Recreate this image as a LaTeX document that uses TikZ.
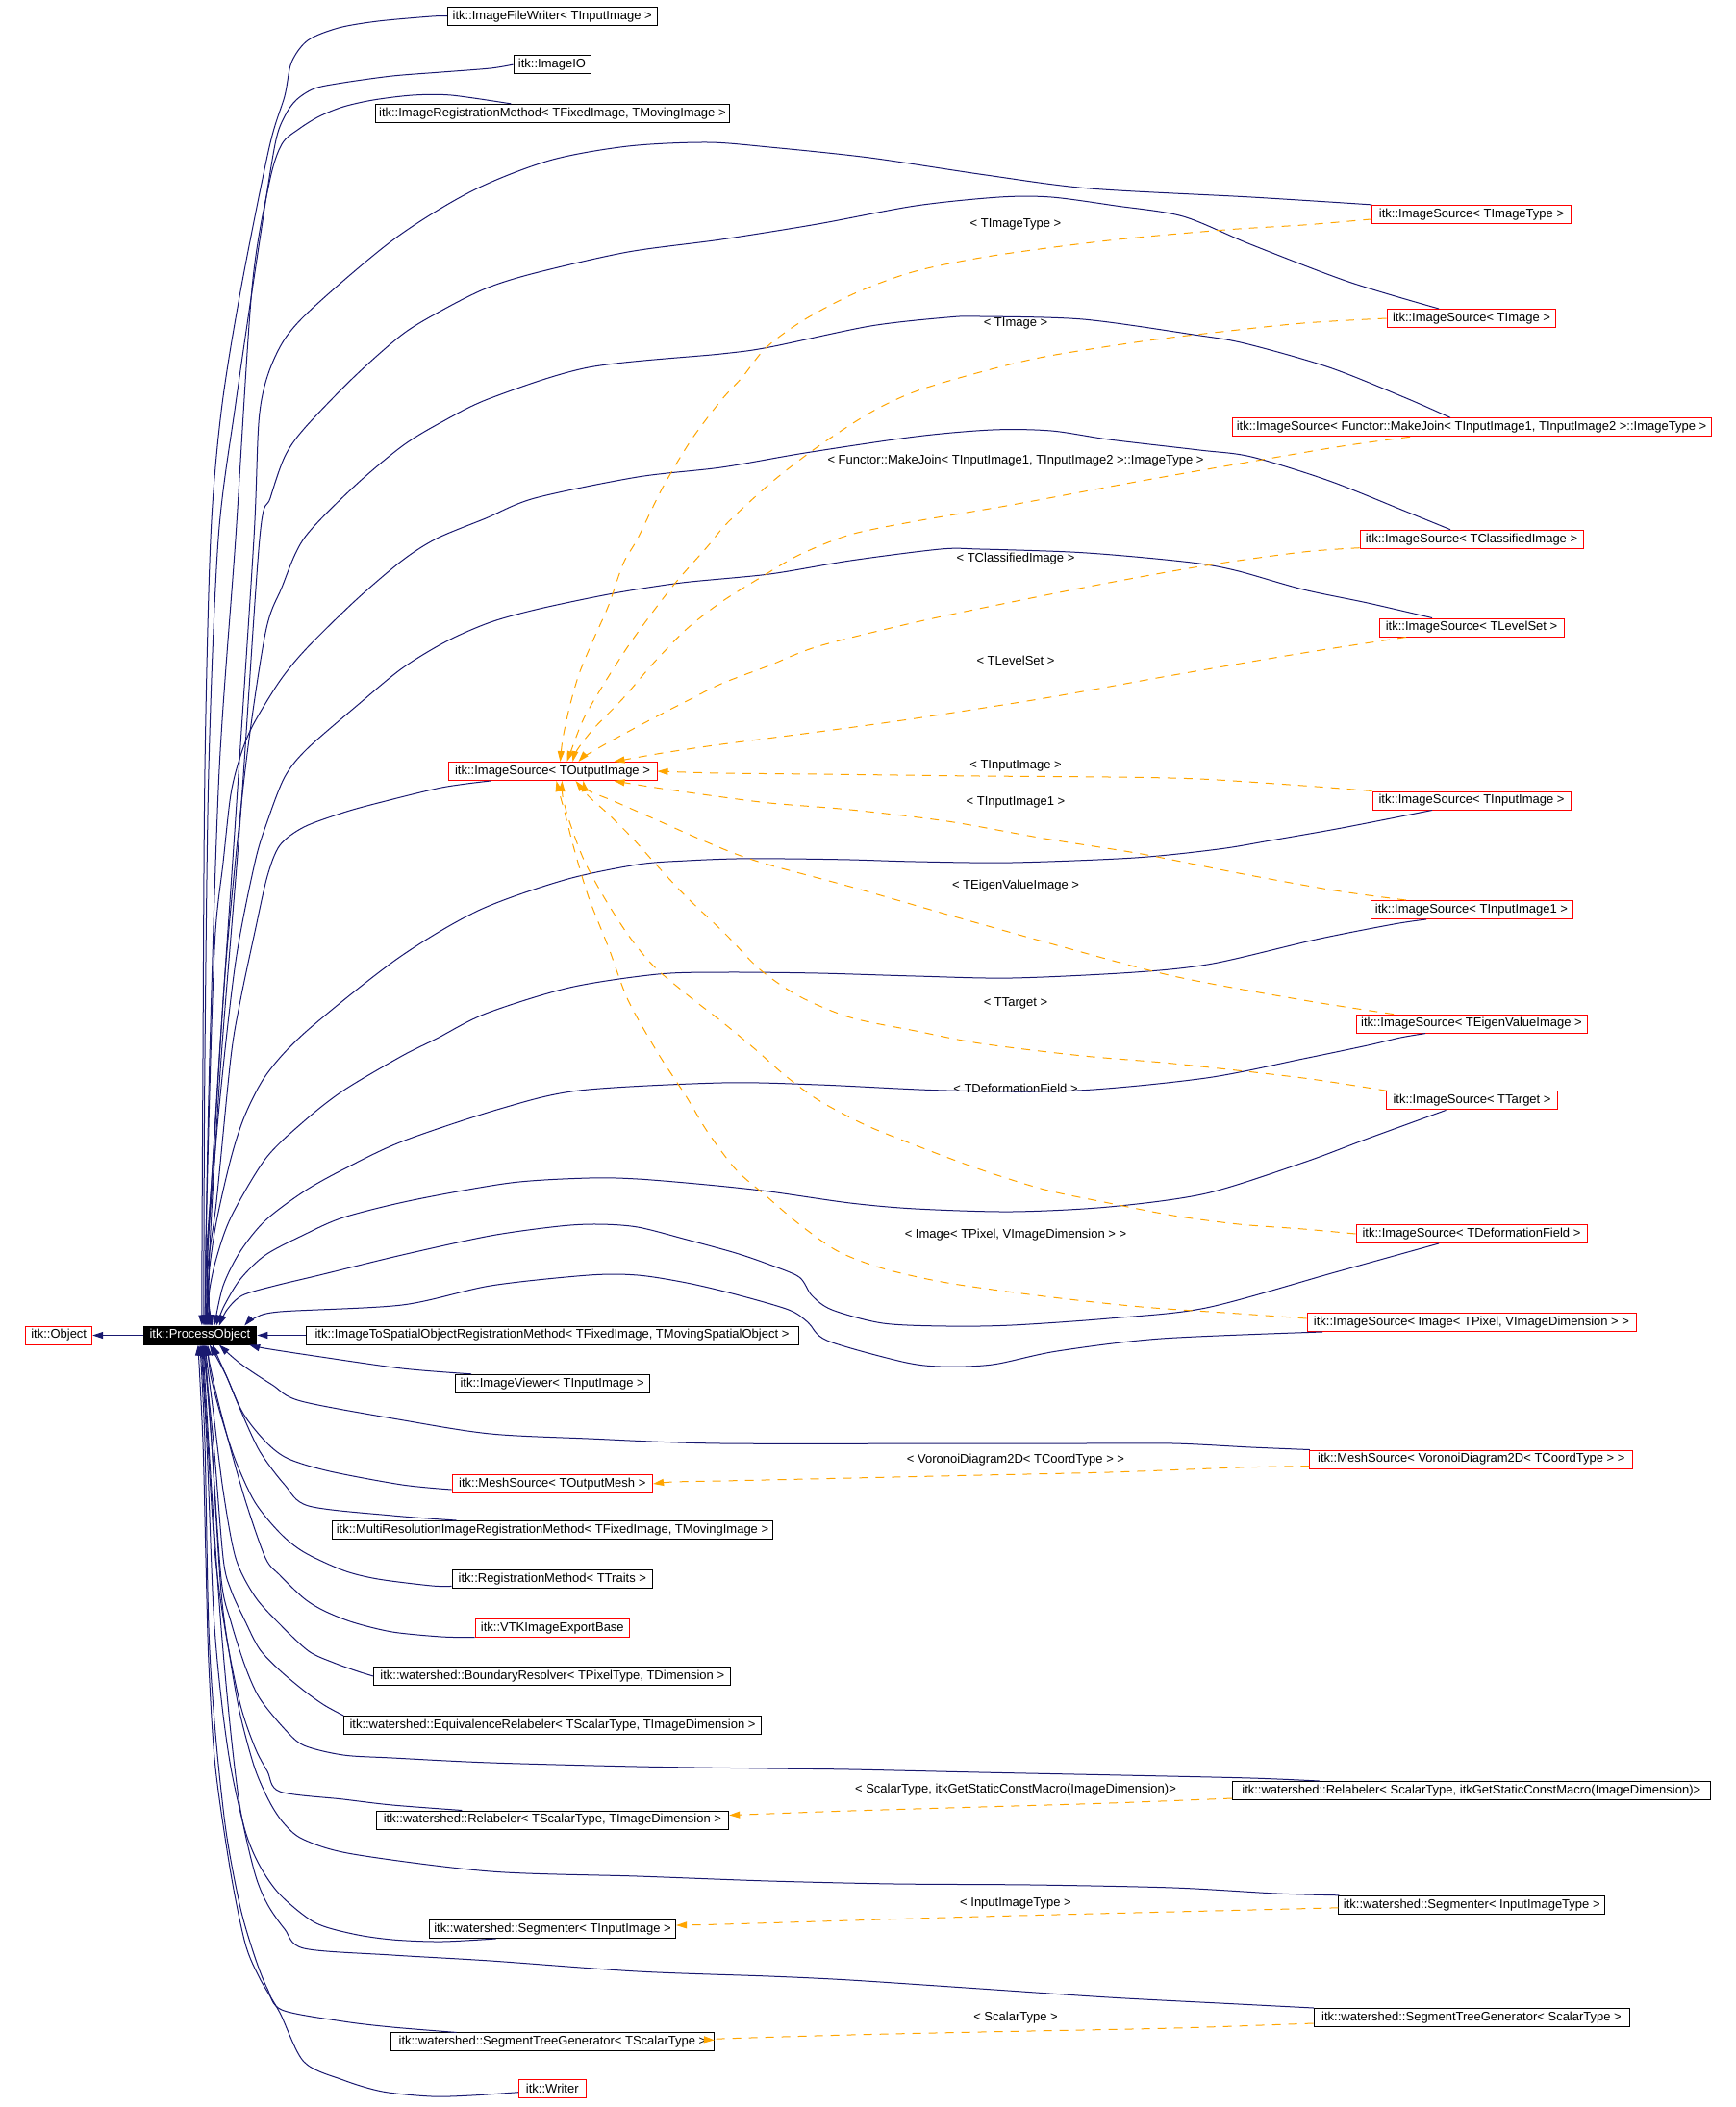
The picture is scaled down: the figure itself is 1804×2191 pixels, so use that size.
\documentclass[tikz,border=0pt]{standalone}
\usepackage{fontspec}
\setmainfont{Liberation Sans}
\usetikzlibrary{arrows.meta}
\definecolor{navy}{HTML}{191970}
\definecolor{dxorange}{HTML}{FFA500}
\newcommand\dxfont{\fontsize{13}{15}\selectfont}
\tikzset{
 box/.style={draw, line width=1pt, fill=white, rectangle, minimum height=19pt, inner xsep=2pt, inner ysep=0pt, font=\dxfont, text=black},
 rbox/.style={box, draw=red},
 kbox/.style={box, draw=black},
 inh/.style={draw=navy, line width=1pt, -{Triangle[length=11pt,width=7pt]}},
 tpl/.style={draw=dxorange, line width=1pt, dash pattern=on 9pt off 8pt, -{Triangle[length=11pt,width=7pt]}},
 lbl/.style={font=\dxfont, inner sep=0pt, text=black},
 sm/.style={smooth, tension=0.5}
}
\begin{document}
\begin{tikzpicture}[x=1pt, y=-1pt]
\fill[white] (0,0) rectangle (1804,2191);
\useasboundingbox (0,0) rectangle (1804,2191);

% ---- nodes ----
\node[rbox, minimum width=69pt] (obj) at (61.2,1388.5) {itk::Object};
\node[box, draw=black, fill=black, text=white, minimum width=117.7pt] (po) at (207.9,1388.5) {itk::ProcessObject};

\node[kbox, minimum width=217.7pt] (n3) at (574.2,16.7) {itk::ImageFileWriter< TInputImage >};
\node[kbox, minimum width=80pt] (n4) at (574,67.1) {itk::ImageIO};
\node[kbox, minimum width=368.7pt] (n5) at (574.4,117.9) {itk::ImageRegistrationMethod< TFixedImage, TMovingImage >};
\node[rbox, minimum width=206.3pt] (n6) at (1530,222.9) {itk::ImageSource< TImageType >};
\node[rbox, minimum width=175.6pt] (n7) at (1530,331) {itk::ImageSource< TImage >};
\node[rbox, minimum width=498pt] (n8) at (1530,444.3) {itk::ImageSource< Functor::MakeJoin< TInputImage1, TInputImage2 >::ImageType >};
\node[rbox, minimum width=232pt] (n9) at (1530,560.7) {itk::ImageSource< TClassifiedImage >};
\node[rbox, minimum width=192pt] (n10) at (1530,652.5) {itk::ImageSource< TLevelSet >};
\node[rbox, minimum width=217pt] (n11) at (574.5,802) {itk::ImageSource< TOutputImage >};
\node[rbox, minimum width=206pt] (n12) at (1530,832.5) {itk::ImageSource< TInputImage >};
\node[rbox, minimum width=210pt] (n13) at (1530,946) {itk::ImageSource< TInputImage1 >};
\node[rbox, minimum width=240pt] (n14) at (1530,1064.6) {itk::ImageSource< TEigenValueImage >};
\node[rbox, minimum width=178pt] (n15) at (1530.5,1144.4) {itk::ImageSource< TTarget >};
\node[rbox, minimum width=240pt] (n16) at (1530,1283) {itk::ImageSource< TDeformationField >};
\node[rbox, minimum width=342pt] (n17) at (1530,1375) {itk::ImageSource< Image< TPixel, VImageDimension > >};
\node[kbox, minimum width=512pt] (n18) at (574,1388.5) {itk::ImageToSpatialObjectRegistrationMethod< TFixedImage, TMovingSpatialObject >};
\node[kbox, minimum width=201.7pt] (n19) at (574.2,1438.8) {itk::ImageViewer< TInputImage >};
\node[rbox, minimum width=336pt] (n20) at (1529.8,1517.5) {itk::MeshSource< VoronoiDiagram2D< TCoordType > >};
\node[rbox, minimum width=208.6pt] (n21) at (574.3,1543) {itk::MeshSource< TOutputMesh >};
\node[kbox, minimum width=458pt] (n22) at (574.5,1591) {itk::MultiResolutionImageRegistrationMethod< TFixedImage, TMovingImage >};
\node[kbox, minimum width=208.6pt] (n23) at (574.3,1642.4) {itk::RegistrationMethod< TTraits >};
\node[rbox, minimum width=160.6pt] (n24) at (574.3,1692.7) {itk::VTKImageExportBase};
\node[kbox, minimum width=371pt] (n25) at (574.3,1743) {itk::watershed::BoundaryResolver< TPixelType, TDimension >};
\node[kbox, minimum width=433.6pt] (n26) at (574.5,1794) {itk::watershed::EquivalenceRelabeler< TScalarType, TImageDimension >};
\node[kbox, minimum width=496.4pt] (n27) at (1529.8,1862) {itk::watershed::Relabeler< ScalarType, itkGetStaticConstMacro(ImageDimension)>};
\node[kbox, minimum width=366.7pt] (n28) at (574.4,1892.5) {itk::watershed::Relabeler< TScalarType, TImageDimension >};
\node[kbox, minimum width=277pt] (n29) at (1530.3,1980.8) {itk::watershed::Segmenter< InputImageType >};
\node[kbox, minimum width=256.2pt] (n30) at (574.5,2006) {itk::watershed::Segmenter< TInputImage >};
\node[kbox, minimum width=328pt] (n31) at (1530,2098) {itk::watershed::SegmentTreeGenerator< ScalarType >};
\node[kbox, minimum width=335.7pt] (n32) at (574.5,2123.4) {itk::watershed::SegmentTreeGenerator< TScalarType >};
\node[rbox, minimum width=70pt] (n33) at (574.3,2171.7) {itk::Writer};

% ---- edge labels ----
\node[lbl] (l1) at (1056,233) {< TImageType >};
\node[lbl] (l2) at (1056,336.4) {< TImage >};
\node[lbl] (l3) at (1056,479.6) {< Functor::MakeJoin< TInputImage1, TInputImage2 >::ImageType >};
\node[lbl] (l4) at (1056,580.7) {< TClassifiedImage >};
\node[lbl] (l5) at (1056,687) {< TLevelSet >};
\node[lbl] (l6) at (1056,796.4) {< TInputImage >};
\node[lbl] (l7) at (1056,834.6) {< TInputImage1 >};
\node[lbl] (l8) at (1056,920.7) {< TEigenValueImage >};
\node[lbl] (l9) at (1056,1042.9) {< TTarget >};
\node[lbl] (l10) at (1056,1131.8) {< TDeformationField >};
\node[lbl] (l11) at (1056,1284) {< Image< TPixel, VImageDimension > >};
\node[lbl] (l12) at (1056,1518.6) {< VoronoiDiagram2D< TCoordType > >};
\node[lbl] (l13) at (1056,1860.7) {< ScalarType, itkGetStaticConstMacro(ImageDimension)>};
\node[lbl] (l14) at (1056,1979.8) {< InputImageType >};
\node[lbl] (l15) at (1056,2098) {< ScalarType >};

% ---- inheritance edges ----
\draw[inh] (po.west) -- (obj.east);
\draw[inh] (n18.west) -- (po.east);

\draw[inh] plot[sm] coordinates {(n3.west) (449,17) (393,22) (352,29) (320,42) (303,65) (296,100) (280,153) (250,303) (230,428) (219,560) (213,800) (211,1100) (210,1300) ([xshift=2pt]po.north)};
\draw[inh] plot[sm] coordinates {(n4.west) (510,71) (459,75) (408,79) (357,86) (327,92) (308,104) (296,121) (286,150) (270,250) (245,420) (227,560) (217,800) (213,1100) (212,1300) ([xshift=4pt]po.north)};
\draw[inh] plot[sm] coordinates {([xshift=-43pt]n5.north) (469,99) (429,99) (388,104) (357,111) (332,121) (311,134) (293,150) (280,190) (262,300) (245,560) (228,800) (218,1100) (214,1300) ([xshift=6pt]po.north)};
\draw[inh] plot[sm] coordinates {(n6.north west) (1301,205) (1133,196) (1025,182) (904,164) (800,153) (735,148) (653,152) (571,167) (490,199) (408,250) (316,329) (286,371) (270,429) (264,560) (245,850) (228,1100) (216,1300) ([xshift=8pt]po.north)};
\draw[inh] plot[sm] coordinates {([xshift=-34pt]n7.north) (1402,293) (1300,254) (1230,225) (1160,214) (1093,205) (1039,205) (952,214) (850,233) (750,249) (653,262) (556,284) (505,300) (459,323) (418,348) (367,393) (316,446) (296,475) (281,518) (270,560) (250,850) (230,1100) (218,1300) ([xshift=10pt]po.north)};
\draw[inh] plot[sm] coordinates {([xshift=-22pt]n8.north) (1462,414) (1382,382) (1294,357) (1241,348) (1126,332) (1019,329) (985,330) (905,339) (800,361) (750,368) (612,382) (510,414) (459,439) (418,464) (367,507) (316,560) (293,611) (276,658) (255,800) (235,1000) (222,1200) (215,1300) ([xshift=5pt]po.north)};
\draw[inh] plot[sm] coordinates {([xshift=-22pt]n9.north) (1462,532) (1382,500) (1301,475) (1247,468) (1153,457) (1093,448) (1032,447) (952,454) (837,471) (750,486) (663,496) (556,518) (505,539) (454,560) (418,583) (370,624) (319,674) (291,708) (263,754) (250,786) (240,826) (232,897) (224,969) (219,1100) (214,1300) ([xshift=7pt]po.north)};
\draw[inh] plot[sm] coordinates {([xshift=-41pt]n10.north) (1422,627) (1355,613) (1288,594) (1247,586) (1180,579) (1113,574) (1019,571) (978,571) (884,583) (800,597) (709,606) (638,617) (561,633) (510,647) (464,667) (418,695) (372,733) (319,779) (296,808) (278,854) (265,897) (245,1000) (228,1150) (216,1300) ([xshift=9pt]po.north)};
\draw[inh] plot[sm] coordinates {([xshift=-64.5pt]n11.south) (459,819) (393,835) (357,845) (316,860) (291,879) (278,911) (265,969) (250,1040) (240,1100) (225,1250) (216,1320) ([xshift=11pt]po.north)};
\draw[inh] plot[sm] coordinates {([xshift=-41pt]n12.south) (1395,861) (1321,874) (1267,883) (1180,892) (1052,897) (952,896) (884,894) (817,893) (765,893) (714,895) (663,899) (587,915) (497,947) (413,997) (319,1072) (278,1116) (255,1159) (240,1205) (224,1276) (216,1340) ([xshift=12pt]po.north)};
\draw[inh] plot[sm] coordinates {([xshift=-47pt]n13.south) (1449,961) (1368,977) (1261,1002) (1180,1011) (1052,1017) (952,1015) (851,1012) (755,1011) (684,1013) (592,1027) (505,1054) (454,1080) (418,1098) (357,1134) (316,1166) (276,1205) (240,1266) (224,1312) (217,1350) ([xshift=13pt]po.north)};
\draw[inh] plot[sm] coordinates {([xshift=-48pt]n14.south) (1456,1079) (1422,1087) (1355,1101) (1254,1121) (1120,1134) (985,1134) (851,1128) (750,1126) (602,1134) (520,1153) (418,1187) (357,1216) (316,1239) (276,1269) (250,1301) (232,1337) ([xshift=15pt]po.north)};
\draw[inh] plot[sm] coordinates {([xshift=-27pt]n15.south) (1422,1184) (1355,1209) (1254,1241) (1153,1255) (1052,1260) (952,1257) (884,1251) (800,1239) (735,1232) (663,1226) (612,1225) (531,1230) (429,1248) (357,1266) (316,1284) (276,1305) (250,1330) (233,1358) ([xshift=17pt]po.north)};
\draw[inh] plot[sm] coordinates {([xshift=-34pt]n16.south) (1388,1323) (1254,1360) (1153,1371) (1052,1378) (985,1379) (918,1376) (865,1362) (844,1347) (831,1328) (800,1315) (765,1303) (714,1289) (663,1276) (622,1273) (582,1275) (510,1285) (418,1305) (332,1326) (286,1337) (252,1347) (236,1362) ([xshift=20pt]po.north)};
\draw[inh] plot[sm] coordinates {([xshift=-155pt]n17.south) (1207,1392) (1099,1405) (1032,1419) (978,1421) (938,1416) (860,1394) (840,1375) (820,1362) (765,1346) (714,1334) (663,1326) (612,1326) (510,1337) (418,1357) (291,1364) (264,1371) ([xshift=-13pt]po.north east)};

\draw[inh] plot[sm] coordinates {([xshift=-84pt]n19.north) (418,1423) (327,1410) (275,1402) ([xshift=-8pt]po.south east)};
\draw[inh] plot[sm] coordinates {([xshift=-168pt]n20.north) (1301,1505) (1220,1501) (1120,1501) (1019,1501) (750,1501) (612,1496) (510,1491) (420,1477) (313,1457) (283,1440) (250,1418) ([xshift=20pt]po.south)};
\draw[inh] plot[sm] coordinates {([yshift=-6pt]n21.west) (418,1544) (343,1530) (300,1517) (277,1500) (253,1470) (235,1430) ([xshift=13pt]po.south)};
\draw[inh] plot[sm] coordinates {([xshift=-100pt]n22.north) (408,1576) (321,1566) (296,1544) (270,1509) (250,1466) (235,1430) ([xshift=10pt]po.south)};
\draw[inh] plot[sm] coordinates {([yshift=-7pt]n23.west) (449,1649) (393,1642) (357,1633) (316,1614) (291,1594) (265,1562) (245,1519) (230,1473) (219,1430) ([xshift=8pt]po.south)};
\draw[inh] plot[sm] coordinates {(n24.south west) (459,1702) (408,1697) (367,1687) (337,1675) (316,1662) (291,1638) (276,1620) (255,1560) (238,1500) (225,1450) ([xshift=6pt]po.south)};
\draw[inh] plot[sm] coordinates {(n25.west) (372,1738) (347,1729) (321,1717) (291,1689) (265,1660) (245,1620) (232,1550) (222,1470) ([xshift=5pt]po.south)};
\draw[inh] plot[sm] coordinates {(n26.north west) (337,1773) (316,1758) (291,1737) (270,1715) (255,1686) (240,1653) (232,1620) (222,1500) ([xshift=3pt]po.south)};
\draw[inh] plot[sm] coordinates {([xshift=-158pt]n27.north) (1301,1849) (1167,1846) (1019,1843) (884,1840) (800,1839) (663,1837) (510,1833) (408,1828) (357,1825) (316,1815) (296,1798) (270,1766) (255,1733) (240,1686) (230,1642) (220,1500) ([xshift=4pt]po.south)};
\draw[inh] plot[sm] coordinates {([xshift=-94pt]n28.north) (408,1877) (357,1871) (291,1863) (278,1842) (265,1817) (250,1773) (235,1700) (224,1620) (216,1500) ([xshift=2pt]po.south)};
\draw[inh] plot[sm] coordinates {([xshift=-138pt]n29.north) (1328,1969) (1220,1963) (1073,1960) (931,1959) (800,1956) (663,1951) (510,1946) (367,1928) (316,1913) (296,1897) (281,1875) (265,1839) (250,1784) (240,1729) (230,1656) (220,1500) ([xshift=5pt]po.south)};
\draw[inh] plot[sm] coordinates {([xshift=-59pt]n30.south) (459,2019) (408,2017) (367,2011) (327,1999) (291,1970) (270,1940) (255,1904) (240,1838) (230,1766) (222,1675) (215,1500) ([xshift=1pt]po.south)};
\draw[inh] plot[sm] coordinates {([xshift=-164pt]n31.north) (1288,2084) (1153,2077) (1019,2068) (884,2059) (800,2055) (663,2050) (510,2039) (408,2033) (316,2026) (296,2006) (278,1980) (265,1948) (250,1882) (240,1802) (230,1693) (220,1550) ([xshift=3pt]po.south)};
\draw[inh] plot[sm] coordinates {([xshift=-100pt]n32.north) (408,2108) (357,2102) (293,2090) (278,2068) (265,2035) (250,1984) (235,1904) (224,1802) (217,1693) (213,1500) ([xshift=0pt]po.south)};
\draw[inh] plot[sm] coordinates {([yshift=-4pt]n33.west) (490,2179) (449,2180) (398,2175) (357,2163) (316,2144) (291,2093) (270,2057) (255,2021) (240,1948) (224,1838) (217,1729) (214,1620) (211,1500) ([xshift=-2pt]po.south)};

% ---- template instantiation edges ----
\draw[tpl] plot[sm] coordinates {([yshift=-5pt]n6.west) (1355,234) (1274,239) (1153,250) (1032,266) (952,282) (891,304) (837,332) (797,361) (772,392) (750,416) (719,457) (689,507) (663,560) (648,586) (633,629) (617,665) (602,701) (592,736) (585,769) ([xshift=8pt]n11.north)};
\draw[tpl] plot[sm] coordinates {(n7.west) (1355,336) (1261,346) (1187,355) (1086,371) (1019,387) (952,407) (905,429) (851,464) (804,500) (757,543) (735,569) (704,604) (679,636) (653,672) (628,711) (607,747) (594,780) ([xshift=15pt]n11.north)};
\draw[tpl] plot[sm] coordinates {([xshift=-64pt]n8.south) (1395,464) (1301,480) (1187,500) (1052,525) (952,542) (884,556) (831,577) (790,601) (750,626) (714,654) (679,690) (648,726) (617,758) (600,780) ([xshift=21pt]n11.north)};
\draw[tpl] plot[sm] coordinates {([yshift=-9pt]n9.west) (1355,574) (1254,588) (1153,606) (1052,626) (952,647) (851,672) (800,692) (750,711) (714,729) (679,747) (638,769) (610,785) ([xshift=27pt]n11.north)};
\draw[tpl] plot[sm] coordinates {([xshift=-68pt]n10.south) (1355,679) (1220,702) (1086,726) (952,747) (851,761) (750,774) (689,783) ([xshift=64pt]n11.north)};
\draw[tpl] plot[sm] coordinates {(n12.north west) (1355,817) (1247,810) (1153,808) (1019,807) (851,805) (750,804) (n11.east)};
\draw[tpl] plot[sm] coordinates {([xshift=-68pt]n13.north) (1388,926) (1288,908) (1187,888) (1086,872) (985,854) (884,842) (800,835) (730,826) (675,818) ([xshift=64pt]n11.south)};
\draw[tpl] plot[sm] coordinates {([xshift=-81pt]n14.north) (1355,1040) (1220,1015) (1099,983) (985,951) (884,922) (802,900) (765,888) (724,871) (679,851) (638,833) (612,822) ([xshift=32pt]n11.south)};
\draw[tpl] plot[sm] coordinates {([xshift=-88pt]n15.north) (1355,1121) (1220,1106) (1126,1098) (1019,1085) (952,1072) (884,1058) (831,1036) (790,1008) (755,972) (714,933) (684,901) (658,872) (633,847) (612,828) ([xshift=24pt]n11.south)};
\draw[tpl] plot[sm] coordinates {(n16.west) (1355,1278) (1288,1273) (1220,1264) (1153,1251) (1086,1237) (1019,1216) (952,1191) (898,1169) (851,1144) (817,1119) (784,1090) (750,1062) (714,1034) (679,1004) (653,972) (628,933) (607,894) (592,854) (585,828) ([xshift=10pt]n11.south)};
\draw[tpl] plot[sm] coordinates {([yshift=4pt]n17.west) (1288,1366) (1187,1359) (1086,1348) (985,1334) (918,1319) (871,1301) (831,1273) (797,1244) (765,1216) (735,1176) (714,1141) (684,1095) (653,1040) (633,986) (612,933) (597,883) (587,844) (582,826) ([xshift=4pt]n11.south)};
\draw[tpl] plot[sm] coordinates {([yshift=-7pt]n20.west) (1288,1526) (1153,1531) (1019,1534) (884,1537) (750,1540) (700,1541) (n21.east)};
\draw[tpl] plot[sm] coordinates {([yshift=-8pt]n27.west) (1153,1875) (1019,1879) (884,1883) (800,1886) ([yshift=5pt]n28.east)};
\draw[tpl] plot[sm] coordinates {([yshift=-3pt]n29.west) (1220,1988) (1019,1993) (884,1997) (750,2001) ([yshift=4pt]n30.east)};
\draw[tpl] plot[sm] coordinates {([yshift=-6pt]n31.west) (1220,2109) (1019,2113) (884,2116) (750,2120) ([yshift=2pt]n32.east)};
\end{tikzpicture}
\end{document}
